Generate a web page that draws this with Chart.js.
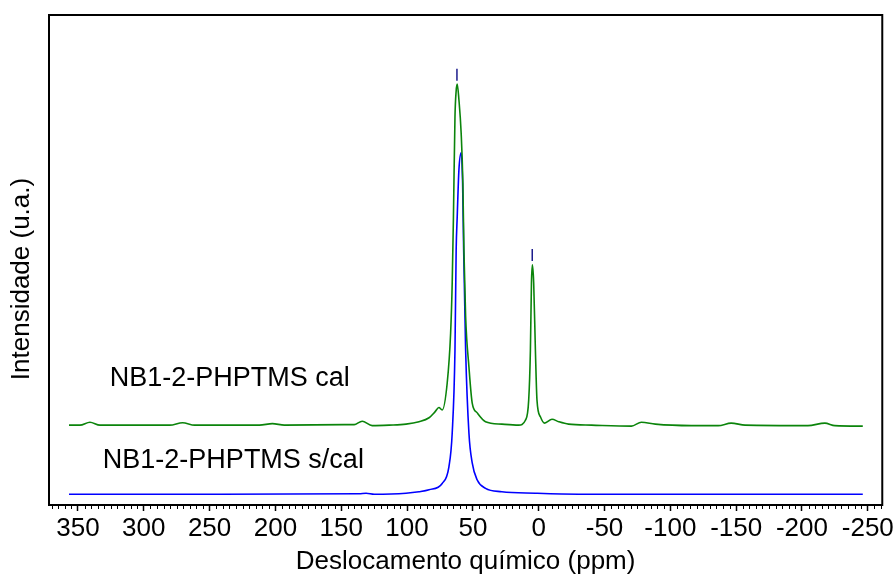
<!DOCTYPE html>
<html>
<head>
<meta charset="utf-8">
<script src="https://cdn.jsdelivr.net/npm/chart.js@4.4.1/dist/chart.umd.min.js"></script>
<style>
  body { margin: 0; background: #fff; }
</style>
</head>
<body>
<canvas id="myChart" width="896" height="578"></canvas>
<script>
// spectrum (ppm, intensity u.a.)
var greenPpm = [356.8, 348.5, 340.9, 333.3, 280.3, 270.5, 261.4, 212.1, 202.3, 193.2, 147.7, 140.2, 134.1, 126.5, 113.6, 100.8, 90.9, 83.3, 78.8, 75.8, 73.3, 69.5, 66.9, 65.7, 64.8, 63.6, 62.7, 61.9, 60.6, 58.9, 57.6, 56.8, 55.5, 53.0, 50.5, 46.7, 40.4, 28.0, 15.2, 10.1, 7.6, 6.3, 5.5, 4.8, 3.8, 2.5, 1.3, -1.3, -4.5, -10.1, -15.2, -22.7, -40.2, -70.5, -78.0, -88.6, -115.9, -136.4, -146.2, -156.8, -204.5, -217.4, -225.0, -246.2];
var greenInt = [16.3, 16.3, 16.9, 16.3, 16.3, 16.8, 16.3, 16.3, 16.6, 16.3, 16.4, 16.4, 17.1, 16.2, 16.3, 16.5, 17.0, 17.8, 19.0, 19.9, 19.4, 24.9, 35.1, 45.3, 58.2, 79.2, 84.5, 85.9, 82.7, 75.9, 65.7, 52.0, 38.4, 28.2, 20.8, 18.8, 17.0, 16.5, 16.3, 17.3, 21.4, 31.6, 45.3, 49.0, 45.3, 31.6, 21.4, 18.0, 16.7, 17.5, 17.0, 16.5, 16.3, 16.1, 16.9, 16.5, 16.2, 16.2, 16.7, 16.3, 16.2, 16.7, 16.2, 16.1];

var bluePpm = [356.8, 257.6, 136.4, 131.1, 125.0, 100.8, 90.9, 83.3, 73.3, 68.2, 65.7, 63.6, 62.7, 61.9, 60.6, 58.9, 57.8, 57.0, 55.5, 53.0, 50.5, 46.7, 40.4, 28.0, 2.5, -30.3, -246.2];
var blueInt = [2.2, 2.2, 2.3, 2.4, 2.2, 2.4, 2.7, 3.1, 4.4, 7.8, 14.7, 31.6, 52.0, 58.8, 68.4, 71.9, 65.7, 52.0, 31.6, 14.7, 8.6, 5.1, 3.4, 2.7, 2.4, 2.2, 2.2];

// peak markers
var markPpm = [62.1, 4.9];
var markInt = [87.8, 51.0];

var seriesNames = ['NB1-2-PHPTMS cal', 'NB1-2-PHPTMS s/cal'];
var xTitle = 'Deslocamento químico (ppm)';
var yTitle = 'Intensidade (u.a.)';

var FONT = 'Liberation Sans, Arial, sans-serif';

function toPoints(xs, ys) {
  var out = [];
  for (var i = 0; i < xs.length; i++) out.push({ x: xs[i], y: ys[i] });
  return out;
}

// box, minor ticks, y title and curve names
var extras = {
  id: 'extras',
  afterDraw: function(chart) {
    var c = chart.ctx, a = chart.chartArea, sx = chart.scales.x, sy = chart.scales.y;
    c.save();
    c.strokeStyle = '#000';
    c.lineWidth = 1;
    for (var v = -260; v <= 370; v += 5) {
      if (v % 50 === 0) continue;
      var px = Math.round(sx.getPixelForValue(v)) + 0.5;
      if (px < a.left || px > a.right) continue;
      c.beginPath();
      c.moveTo(px, a.bottom);
      c.lineTo(px, a.bottom + 4);
      c.stroke();
    }
    c.lineWidth = 2;
    c.strokeRect(a.left, a.top, a.right - a.left, a.bottom - a.top);
    c.fillStyle = '#000';
    c.font = '27px ' + FONT;
    c.textAlign = 'left';
    c.textBaseline = 'middle';
    c.fillText(seriesNames[0], sx.getPixelForValue(325.8), sy.getPixelForValue(25.9));
    c.fillText(seriesNames[1], sx.getPixelForValue(331.1), sy.getPixelForValue(9.0));
    // y title
    c.font = '26px ' + FONT;
    c.textAlign = 'center';
    c.translate(22, 279);
    c.rotate(-Math.PI / 2);
    c.fillText(yTitle, 0, 0);
    c.restore();
  }
};

new Chart(document.getElementById('myChart'), {
  type: 'line',
  data: {
    datasets: [{
      label: seriesNames[0],
      data: toPoints(greenPpm, greenInt),
      borderColor: '#0b840b',
      borderWidth: 1.6,
      pointRadius: 0,
      cubicInterpolationMode: 'monotone'
    }, {
      label: seriesNames[1],
      data: toPoints(bluePpm, blueInt),
      borderColor: '#0000ff',
      borderWidth: 1.6,
      pointRadius: 0,
      cubicInterpolationMode: 'monotone'
    }, {
      type: 'scatter',
      label: 'picos',
      data: toPoints(markPpm, markInt),
      pointStyle: 'line',
      rotation: 90,
      radius: 6,
      borderColor: '#1c1c8c',
      borderWidth: 1.5,
      showLine: false
    }]
  },
  options: {
    responsive: false,
    animation: false,
    layout: { padding: { top: 15, right: 11, left: 0, bottom: 0 } },
    plugins: { legend: { display: false }, tooltip: { enabled: false } },
    scales: {
      x: {
        type: 'linear',
        reverse: true,
        min: -261,
        max: 372,
        afterFit: function(s) { s.height = 73; },
        border: { display: false },
        grid: { drawOnChartArea: false, tickLength: 6, tickColor: '#000', tickWidth: 1.5 },
        ticks: { stepSize: 50, includeBounds: false, color: '#000', padding: 2, maxRotation: 0, autoSkip: false, font: { family: FONT, size: 26 } },
        title: { display: true, text: xTitle, color: '#000', padding: { top: 0, bottom: 1 }, font: { family: FONT, size: 26 } }
      },
      y: {
        min: 0,
        max: 100,
        afterFit: function(s) { s.width = 49; },
        border: { display: false },
        grid: { display: false },
        ticks: { display: false },
        title: { display: false }
      }
    }
  },
  plugins: [extras]
});
</script>
</body>
</html>
